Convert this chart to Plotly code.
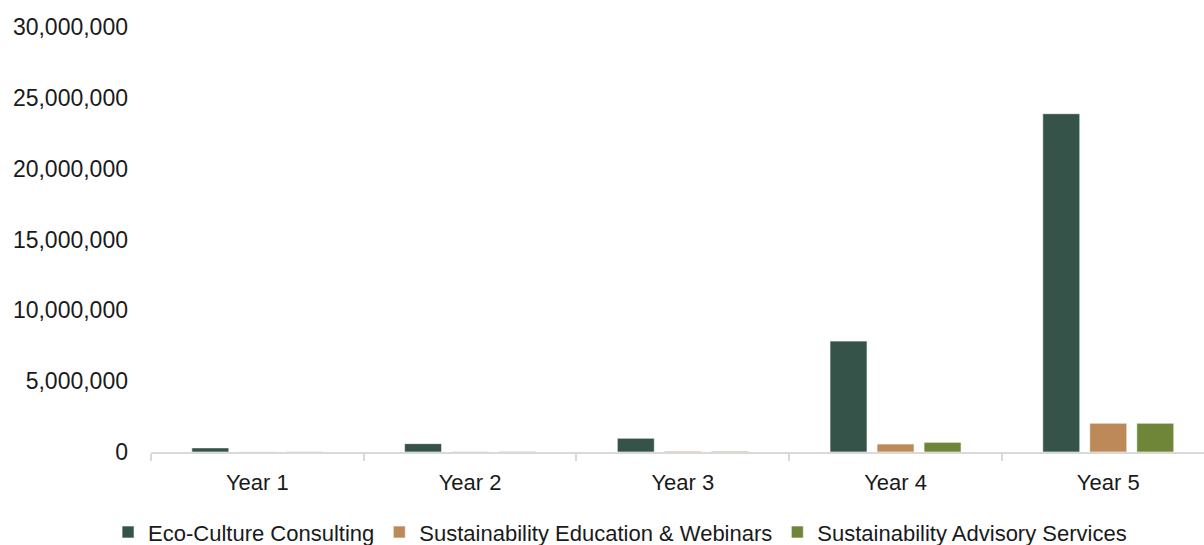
import plotly.graph_objects as go

categories = ["Year 1", "Year 2", "Year 3", "Year 4", "Year 5"]
eco_culture = [290000, 590000, 970000, 7830000, 23880000]
education = [20000, 40000, 60000, 560000, 2030000]
advisory = [15000, 30000, 50000, 680000, 2030000]
series_names = ["Eco-Culture Consulting", "Sustainability Education & Webinars", "Sustainability Advisory Services"]
colors = ["#36534A", "#BD8959", "#6F8537"]
tick_vals = [0, 5000000, 10000000, 15000000, 20000000, 25000000, 30000000]

fig = go.Figure()
for name, vals, col in zip(series_names, [eco_culture, education, advisory], colors):
    fig.add_trace(go.Bar(x=categories, y=vals, name=name,
                         marker=dict(color=col, line=dict(color="rgba(255,255,255,0.6)", width=1))))

fig.update_layout(
    width=1204, height=545,
    margin=dict(l=151, r=0, t=27, b=93),
    paper_bgcolor="white", plot_bgcolor="white",
    barmode="group", bargap=0.337, bargroupgap=0.213,
    font=dict(family="Liberation Sans, Arial, sans-serif", size=20, color="#1a1a1a"),
    showlegend=True,
    legend=dict(orientation="h", xref="container", yref="container",
                x=0.515, xanchor="center", y=0.062, yanchor="top",
                font=dict(size=22), itemwidth=30, tracegroupgap=0,
                traceorder="normal"),
    xaxis=dict(range=[-0.5, 4.45], showline=True, linecolor="#d9d9d9", linewidth=2,
               ticks="outside", tickson="boundaries", ticklen=7, tickcolor="#d9d9d9", tickwidth=2,
               showgrid=False, tickfont=dict(size=22), ticklabelstandoff=10),
    yaxis=dict(range=[0, 30000000], tickvals=tick_vals, tickformat=",d",
               showgrid=False, zeroline=False, showline=False,
               ticklabelstandoff=22, tickfont=dict(size=23)),
)

fig.write_html("out.html")
